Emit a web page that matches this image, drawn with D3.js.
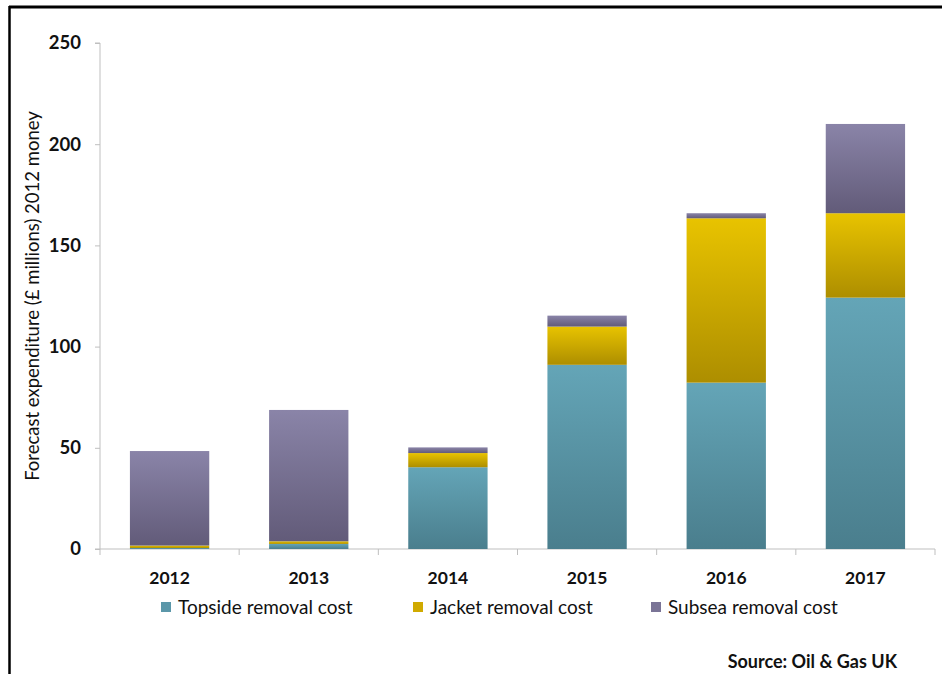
<!DOCTYPE html>
<html>
<head>
<meta charset="utf-8">
<script src="https://cdn.jsdelivr.net/npm/d3@7"></script>
<style>
  html, body { margin: 0; padding: 0; background: #fff; }
  svg { display: block; }
  text { font-family: Lato, "Open Sans", sans-serif; fill: #111; }
</style>
</head>
<body>
<svg id="chart" width="942" height="674"></svg>
<script>
// Forecast decommissioning expenditure by component, £ millions (2012 money)
const years = ["2012", "2013", "2014", "2015", "2016", "2017"];
const topside = [0.5, 2.5, 40.4, 91, 82.2, 124.2];
const jacket = [1.2, 1.3, 7, 18.9, 81.2, 41.7];
const subsea = [46.7, 64.9, 2.8, 5.4, 2.5, 44.1];
const yTicks = [0, 50, 100, 150, 200, 250];
const seriesNames = ["Topside removal cost", "Jacket removal cost", "Subsea removal cost"];
const seriesKeys = ["topside", "jacket", "subsea"];

const rows = years.map((y, i) => ({ year: y, topside: topside[i], jacket: jacket[i], subsea: subsea[i] }));

const svg = d3.select("#chart");
const margin = { left: 100, right: 7, top: 43, bottom: 125 };
const W = 942, H = 674;

const x = d3.scaleBand().domain(years).range([margin.left, W - margin.right]).paddingInner(0.43).paddingOuter(0.215);
const y = d3.scaleLinear().domain([0, 250]).range([H - margin.bottom, margin.top]);

// Vertical gradients per series (light at top, dark at bottom)
const grads = {
  topside: ["#64a5b7", "#4a7e8d"],
  jacket: ["#e8c300", "#ad8e00"],
  subsea: ["#8a84a8", "#625b79"]
};
const defs = svg.append("defs");
seriesKeys.forEach(k => {
  const g = defs.append("linearGradient").attr("id", "g-" + k)
    .attr("x1", 0).attr("y1", 0).attr("x2", 0).attr("y2", 1);
  g.append("stop").attr("offset", "0%").attr("stop-color", grads[k][0]);
  g.append("stop").attr("offset", "100%").attr("stop-color", grads[k][1]);
});
const legendColors = { topside: "#5b97a9", jacket: "#d0aa00", subsea: "#7a7496" };

// Outer frame (top and left rules)
svg.append("line").attr("x1", 9).attr("x2", W).attr("y1", 7).attr("y2", 7)
  .attr("stroke", "#000").attr("stroke-width", 3);
svg.append("line").attr("x1", 9.5).attr("x2", 9.5).attr("y1", 6).attr("y2", H)
  .attr("stroke", "#000").attr("stroke-width", 2.5);

// Y axis
const yAxis = d3.axisLeft(y).tickValues(yTicks).tickSize(5).tickPadding(14);
const yG = svg.append("g").attr("transform", `translate(${margin.left},0)`).call(yAxis);
yG.select(".domain").attr("stroke", "#bfbfbf").attr("d", `M-5,${y(250)}H0V${y(0)}`);
yG.selectAll(".tick line").attr("stroke", "#bfbfbf");
yG.selectAll(".tick text").attr("font-size", 18.5).attr("font-weight", "bold")
  .attr("font-family", "Lato, 'Open Sans', sans-serif").attr("fill", "#111");

// X axis with boundary ticks between categories
const xG = svg.append("g").attr("transform", `translate(0,${y(0)})`);
xG.append("line").attr("x1", margin.left - 5).attr("x2", W - margin.right)
  .attr("stroke", "#bfbfbf");
const step = x.step();
d3.range(years.length + 1).forEach(i => {
  const xx = margin.left + i * step;
  xG.append("line").attr("x1", xx).attr("x2", xx).attr("y1", 0).attr("y2", 6).attr("stroke", "#bfbfbf");
});
xG.selectAll("text.xl").data(years).join("text").attr("class", "xl")
  .attr("x", d => x(d) + x.bandwidth() / 2).attr("y", 35)
  .attr("text-anchor", "middle").attr("font-size", 17.5).attr("font-weight", "bold").text(d => d);

// Stacked bars
const stack = d3.stack().keys(seriesKeys)(rows);
svg.append("g").selectAll("g").data(stack).join("g")
  .attr("fill", d => `url(#g-${d.key})`)
  .selectAll("rect").data(d => d).join("rect")
  .attr("x", d => x(d.data.year))
  .attr("width", x.bandwidth())
  .attr("y", d => y(d[1]))
  .attr("height", d => y(d[0]) - y(d[1]));

// Y title
svg.append("text")
  .attr("transform", `translate(39,${(y(0) + y(250)) / 2 - 0}) rotate(-90)`)
  .attr("text-anchor", "middle").attr("font-size", 18.5)
  .text("Forecast expenditure (£ millions) 2012 money");

// Legend
const legendX = [161, 413, 651];
const lg = svg.append("g").selectAll("g").data(seriesKeys).join("g")
  .attr("transform", (d, i) => `translate(${legendX[i]},607)`);
lg.append("rect").attr("x", 0).attr("y", -5).attr("width", 10).attr("height", 10)
  .attr("fill", d => legendColors[d]);
lg.append("text").attr("x", 17).attr("y", 6.5).attr("font-size", 19)
  .text((d, i) => seriesNames[i]);

// Source note
svg.append("text").attr("x", 897).attr("y", 668).attr("text-anchor", "end")
  .attr("font-size", 18).attr("font-weight", "bold").text("Source: Oil & Gas UK");
</script>
</body>
</html>
